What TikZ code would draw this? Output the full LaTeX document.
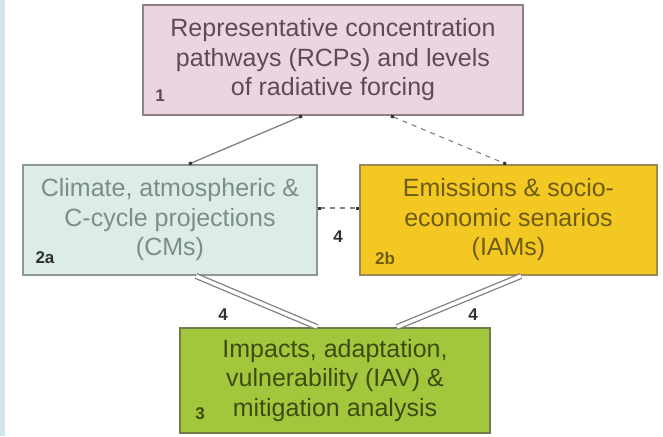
\documentclass[tikz,border=0pt]{standalone}
\usepackage{fontspec}
\setmainfont{Liberation Sans}
\usetikzlibrary{calc,arrows.meta}
\definecolor{pinkfill}{HTML}{EBD5E1}
\definecolor{pinkdraw}{HTML}{8E8189}
\definecolor{pinktext}{HTML}{5E4A58}
\definecolor{bluefill}{HTML}{DCECE8}
\definecolor{bluedraw}{HTML}{8C9894}
\definecolor{bluetext}{HTML}{7C8E8A}
\definecolor{yelfill}{HTML}{F4C823}
\definecolor{yeldraw}{HTML}{9C8A52}
\definecolor{yeltext}{HTML}{6E5C12}
\definecolor{grnfill}{HTML}{A3C73C}
\definecolor{grndraw}{HTML}{6E7E44}
\definecolor{grntext}{HTML}{3E4C12}
\definecolor{linecol}{HTML}{808080}
\definecolor{tipcol}{HTML}{303030}
\definecolor{stripcol}{HTML}{D2E5EF}
\tikzset{
  x=1pt,y=-1pt,
  box/.style={rectangle,line width=2pt,inner sep=0pt,align=center,
    font=\fontsize{25}{29.5}\selectfont},
  numlbl/.style={inner sep=0pt,font=\fontsize{17}{17}\selectfont\bfseries},
  conn/.style={draw=linecol,line width=1.3pt,{Square[length=3pt,width=3pt,color=tipcol]}-{Square[length=3pt,width=3pt,color=tipcol]}},
  dconn/.style={draw=linecol,line width=1.1pt,dash pattern=on 5pt off 5pt,{Square[length=3pt,width=3pt,color=tipcol]}-{Square[length=3pt,width=3pt,color=tipcol]}},
  dbl/.style={draw=linecol,line width=1.3pt,double=white,double distance=3.5pt},
  flow/.style={font=\fontsize{17}{17}\selectfont\bfseries,text=tipcol,inner sep=0pt}
}
\begin{document}
\begin{tikzpicture}
\useasboundingbox (0,0) rectangle (663,436);
\fill[stripcol] (0,0) rectangle (5,436);
\node[box,fill=pinkfill,draw=pinkdraw,text=pinktext,minimum width=380pt,minimum height=110pt] (b1) at (333,60)
  {Representative concentration\\pathways (RCPs) and levels\\of radiative forcing};
\node[box,fill=bluefill,draw=bluedraw,text=bluetext,minimum width=294pt,minimum height=110pt] (b2a) at (170,220)
  {Climate, atmospheric \&\\C-cycle projections\\(CMs)};
\node[box,fill=yelfill,draw=yeldraw,text=yeltext,minimum width=297pt,minimum height=110pt] (b2b) at (508.5,220)
  {Emissions \& socio-\\economic senarios\\(IAMs)};
\node[box,fill=grnfill,draw=grndraw,text=grntext,minimum width=310pt,minimum height=105pt] (b3) at (335,380.5)
  {Impacts, adaptation,\\vulnerability (IAV) \&\\mitigation analysis};
\node[numlbl,text=pinktext] (n1) at (160,96) {1};
\node[numlbl,text=tipcol] (n2a) at (45,258) {2a};
\node[numlbl,text=yeltext] (n2b) at (385,258) {2b};
\node[numlbl,text=grntext] (n3) at (200,414) {3};
\draw[conn] ($(b1.south west)+(160,0)$) -- ($(b2a.north west)+(167,0)$);
\draw[dconn] ($(b1.south west)+(249,0)$) -- ($(b2b.north west)+(147,0)$);
\draw[dconn] ($(b2a.east)+(0,-12)$) -- ($(b2b.west)+(0,-12)$);
\draw[dbl] ($(b2a.south west)+(174,0)$) -- ($(b3.north west)+(138,0)$);
\draw[dbl] ($(b2b.south west)+(162,0)$) -- ($(b3.north west)+(218,0)$);
\node[flow] (f1) at (338,237) {4};
\node[flow] (f2) at (223,315) {4};
\node[flow] (f3) at (473,315) {4};
\end{tikzpicture}
\end{document}
